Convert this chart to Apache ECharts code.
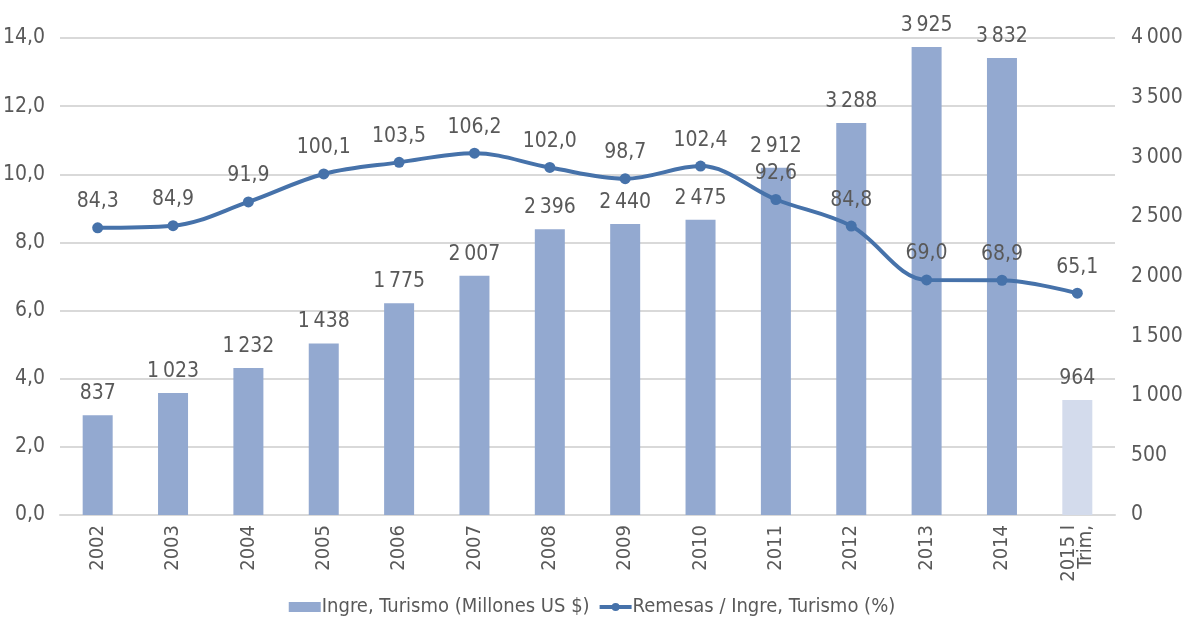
<!DOCTYPE html>
<html><head><meta charset="utf-8">
<script src="https://cdn.jsdelivr.net/npm/echarts@6/dist/echarts.min.js"></script>
<style>html,body{margin:0;padding:0;background:#fff}#c{width:1184px;height:620px}</style>
</head><body><div id="c"></div>
<script>
const categories = ['2002','2003','2004','2005','2006','2007','2008','2009','2010','2011','2012','2013','2014','2015 I\nTrim,'];
const ingresoTurismo = [837,1023,1232,1438,1775,2007,2396,2440,2475,2912,3288,3925,3832,964];
const remesasRatio = [84.3,84.9,91.9,100.1,103.5,106.2,102.0,98.7,102.4,92.6,84.8,69.0,68.9,65.1];
const seriesNames = ['Ingre, Turismo (Millones US $)','Remesas / Ingre, Turismo (%)'];

const FONT = '"Liberation Sans Narrow","DejaVu Sans Condensed","Roboto",sans-serif';
const TXT = '#595959';
const thousands = v => String(v).replace(/\B(?=(\d{3})+(?!\d))/g, '\u2009');
const comma1 = v => v.toFixed(1).replace('.', ',');

const chart = echarts.init(document.getElementById('c'));
chart.setOption({
  animation: false,
  textStyle: {fontFamily: FONT},
  grid: {left: 60, right: 69, top: 38, bottom: 105, outerBoundsMode: 'none', containLabel: false},
  legend: {
    top: 592, itemGap: 8, itemWidth: 32, itemHeight: 10,
    textStyle: {fontFamily: FONT, fontSize: 20, color: TXT, padding: [0,0,0,-4]},
    data: [{name: seriesNames[0], icon: 'rect'},
           {name: seriesNames[1], lineStyle: {width: 4, color: '#4672aa'}}]
  },
  xAxis: {
    type: 'category', data: categories,
    axisLine: {lineStyle: {color: '#d9d9d9', width: 2}},
    axisTick: {show: false},
    axisLabel: {rotate: 90, color: TXT, fontFamily: FONT, fontSize: 20, margin: 10, lineHeight: 17}
  },
  yAxis: [
    {type: 'value', min: 0, max: 140, interval: 20,
     axisLine: {show: false}, axisTick: {show: false},
     splitLine: {lineStyle: {color: '#d9d9d9', width: 2}},
     axisLabel: {color: TXT, fontFamily: FONT, fontSize: 21, margin: 15, formatter: v => comma1(v/10)}},
    {type: 'value', min: 0, max: 4000, interval: 500,
     axisLine: {show: false}, axisTick: {show: false}, splitLine: {show: false},
     axisLabel: {color: TXT, fontFamily: FONT, fontSize: 21, margin: 16, formatter: v => thousands(v)}}
  ],
  series: [
    {name: seriesNames[0], type: 'bar', yAxisIndex: 1, barWidth: 30,
     itemStyle: {color: '#93a9d0'},
     data: ingresoTurismo.map((v,i) => i === ingresoTurismo.length-1 ? {value: v, itemStyle: {color: '#d3dbec'}} : v),
     label: {show: true, position: 'top', distance: 11, color: TXT, fontFamily: FONT, fontSize: 21, formatter: p => thousands(p.value)}},
    {name: seriesNames[1], type: 'line', yAxisIndex: 0, smooth: 0.35,
     symbol: 'circle', symbolSize: 11,
     lineStyle: {color: '#4672aa', width: 4},
     itemStyle: {color: '#4672aa'},
     data: remesasRatio,
     label: {show: true, position: 'top', distance: 10, color: TXT, fontFamily: FONT, fontSize: 21, formatter: p => comma1(p.value)}}
  ]
});
</script></body></html>
